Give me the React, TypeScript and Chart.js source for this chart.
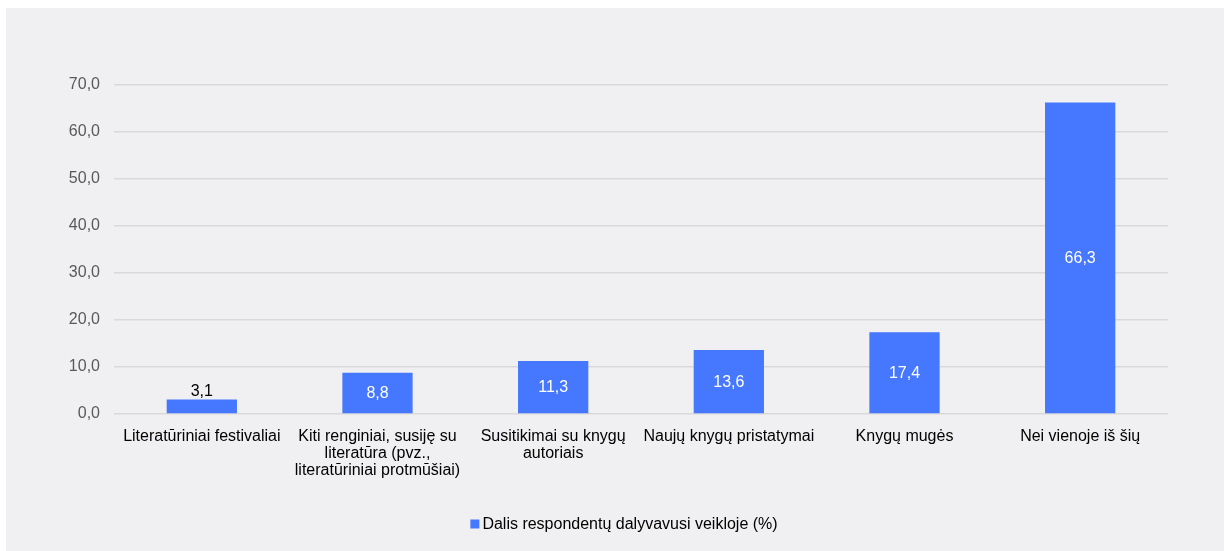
import React, { useEffect, useRef } from "react";
import { Chart, registerables } from "chart.js";

Chart.register(...registerables);

const categories: (string | string[])[] = [
  "Literatūriniai festivaliai",
  ["Kiti renginiai, susiję su", "literatūra (pvz.,", "literatūriniai protmūšiai)"],
  ["Susitikimai su knygų", "autoriais"],
  "Naujų knygų pristatymai",
  "Knygų mugės",
  "Nei vienoje iš šių",
];
const values: number[] = [3.1, 8.8, 11.3, 13.6, 17.4, 66.3];
const seriesLabel = "Dalis respondentų dalyvavusi veikloje (%)";
const yMin = 0;
const yMax = 70;
const yStep = 10;

const FONT = "'Liberation Sans', Arial, sans-serif";
const BAR_COLOR = "#4577ff";
const BG = "#f0f0f2";
const W = 1218;
const H = 543;

const fmt = (v: number) => v.toFixed(1).replace(".", ",");

const valueLabels = {
  id: "valueLabels",
  afterDatasetsDraw(chart: any) {
    const ctx = chart.ctx;
    const meta = chart.getDatasetMeta(0);
    ctx.save();
    ctx.font = `16px ${FONT}`;
    ctx.textAlign = "center";
    meta.data.forEach((bar: any, i: number) => {
      const v = chart.data.datasets[0].data[i] as number;
      const top = bar.y;
      const bottom = bar.base;
      const h = bottom - top;
      if (h > 22) {
        ctx.fillStyle = "#ffffff";
        ctx.textBaseline = "middle";
        ctx.fillText(fmt(v), bar.x, (top + bottom) / 2 + 1);
      } else {
        ctx.fillStyle = "#000000";
        ctx.textBaseline = "bottom";
        ctx.fillText(fmt(v), bar.x, top);
      }
    });
    ctx.restore();
  },
};

const customLegend = {
  id: "customLegend",
  afterDraw(chart: any) {
    const ctx = chart.ctx;
    ctx.save();
    ctx.font = `16px ${FONT}`;
    const tw = ctx.measureText(seriesLabel).width;
    const box = 9;
    const gap = 3;
    const total = box + gap + tw;
    const cx = chart.width / 2 + 9;
    const x0 = cx - total / 2;
    const yc = 516;
    ctx.fillStyle = BAR_COLOR;
    ctx.fillRect(x0, yc - box / 2, box, box);
    ctx.fillStyle = "#000000";
    ctx.textBaseline = "middle";
    ctx.textAlign = "left";
    ctx.fillText(seriesLabel, x0 + box + gap, yc + 1);
    ctx.restore();
  },
};

export default function App() {
  const ref = useRef<HTMLCanvasElement | null>(null);
  useEffect(() => {
    if (!ref.current) return;
    const chart = new Chart(ref.current, {
      type: "bar",
      data: {
        labels: categories as any,
        datasets: [
          {
            label: seriesLabel,
            data: values,
            backgroundColor: BAR_COLOR,
            borderWidth: 0,
            barPercentage: 0.4,
            categoryPercentage: 1,
          },
        ],
      },
      options: {
        responsive: false,
        animation: false,
        devicePixelRatio: 1,
        layout: { padding: { left: 0, right: 56, top: 77, bottom: 37 } },
        plugins: {
          legend: { display: false },
          tooltip: { enabled: false },
        },
        scales: {
          x: {
            grid: { display: false, drawTicks: false },
            border: { display: false },
            ticks: {
              color: "#000000",
              font: { family: FONT, size: 16, lineHeight: 1.07 },
              padding: 14,
              maxRotation: 0,
              minRotation: 0,
              autoSkip: false,
            },
            afterFit: (s: any) => {
              s.height = 100;
            },
          },
          y: {
            min: yMin,
            max: yMax,
            grid: { color: "#d9d9d9", lineWidth: 1.5, drawTicks: false },
            border: { display: false },
            ticks: {
              stepSize: yStep,
              color: "#595959",
              font: { family: FONT, size: 16 },
              padding: 14,
              callback: (v: any) => fmt(Number(v)),
            },
            afterFit: (s: any) => {
              s.width = 108;
            },
          },
        },
      },
      plugins: [valueLabels, customLegend],
    });
    return () => chart.destroy();
  }, []);
  return (
    <div
      style={{
        position: "fixed",
        left: 6,
        top: 8,
        width: W,
        height: H,
        background: BG,
      }}
    >
      <canvas ref={ref} width={W} height={H} style={{ display: "block" }} />
    </div>
  );
}
